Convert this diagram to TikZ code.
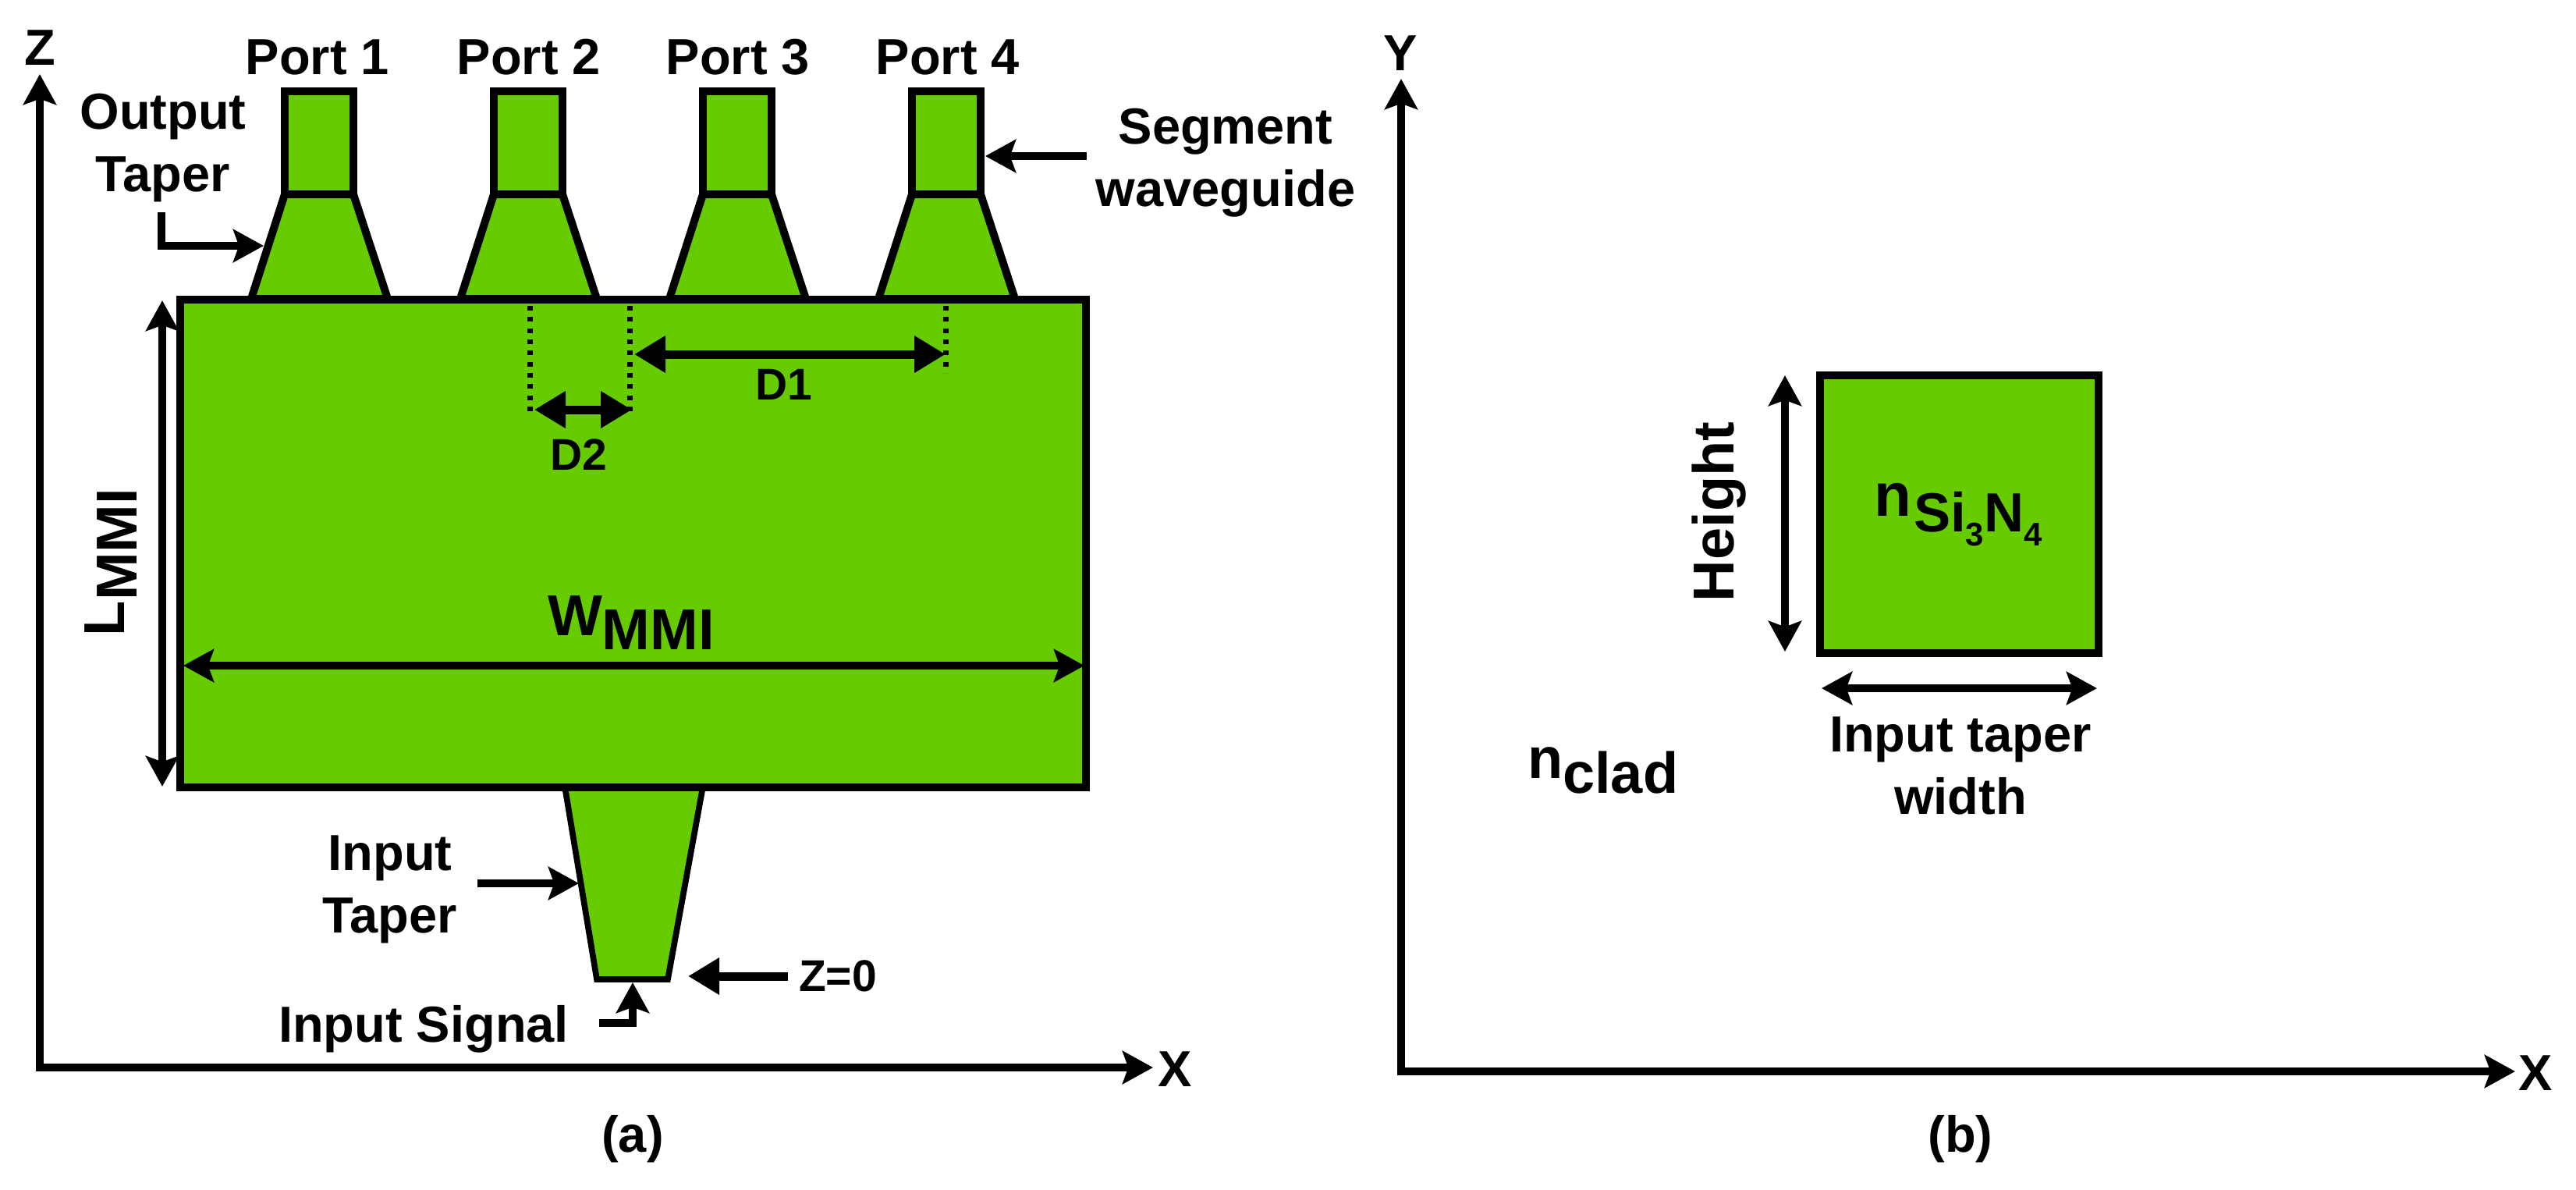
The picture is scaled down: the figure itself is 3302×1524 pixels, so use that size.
\documentclass[tikz,border=0pt]{standalone}
\usepackage{fontspec}
\setmainfont{Liberation Sans}
\usetikzlibrary{arrows.meta}
\definecolor{coregreen}{HTML}{66CC00}
\newcommand{\labelfont}{\fontsize{19.5}{24}\selectfont\bfseries}
\newcommand{\smallfont}{\fontsize{17.1}{20}\selectfont\bfseries}
\newcommand{\bigfont}{\fontsize{22.2}{26}\selectfont\bfseries}

\begin{document}
\begin{tikzpicture}[
  x = 0.3pt, y = -0.3pt,
  every node/.style = {inner sep=0pt, outer sep=0pt, anchor=base, font=\labelfont},
  device/.style = {draw, fill=coregreen, line width=3pt},
  thintaper/.style = {draw, fill=coregreen, line width=2.3pt},
  gap/.style = {line width=2.1pt, dash pattern=on 1.8pt off 2.5pt},
  pointer/.style = {line width=3pt, -{Stealth[length=11.7pt, width=12.6pt, inset=2.2pt]}},
  span/.style = {line width=3pt, {Stealth[length=11.7pt, width=12.6pt, inset=2.2pt]}-{Stealth[length=11.7pt, width=12.6pt, inset=2.2pt]}},
  solidspan/.style = {line width=3.3pt, {Triangle[length=12pt, width=13.5pt]}-{Triangle[length=12pt, width=13.5pt]}},
  solidpointer/.style = {line width=3.3pt, -{Triangle[length=12pt, width=13.5pt]}}
]
  \useasboundingbox (0,0) rectangle (3302,1524);

  \coordinate (ztip) at (51,95);
  \coordinate (acorner) at (51,1368);
  \coordinate (axtip) at (1478,1368);
  \draw[span] (ztip) -- (acorner) -- (axtip);
  \node (zlabel) at (51,83) {Z};
  \node (axlabel) at (1506,1392) {X};
  \node (acaption) at (811,1476) {(a)};

  \draw[device] (322,383) -- (365,249) -- (453,249) -- (497,383) -- cycle;
  \draw[device] (590,383) -- (633,249) -- (721,249) -- (765,383) -- cycle;
  \draw[device] (858,383) -- (901,249) -- (989,249) -- (1033,383) -- cycle;
  \draw[device] (1126,383) -- (1169,249) -- (1257,249) -- (1301,383) -- cycle;
  \draw[device] (365,117) rectangle (453,249);
  \draw[device] (633,117) rectangle (721,249);
  \draw[device] (901,117) rectangle (989,249);
  \draw[device] (1169,117) rectangle (1257,249);
  \draw[thintaper] (724,1008) -- (765,1255) -- (856,1255) -- (901,1008) -- cycle;
  \draw[device] (231,384) rectangle (1392,1009);

  \node (port1) at (407,95) {Port 1};
  \node (port2) at (678,95) {Port 2};
  \node (port3) at (946,95) {Port 3};
  \node (port4) at (1215,95) {Port 4};

  \node (outputtaper) [align=center] at (209,245) {Output\\Taper};
  \coordinate (outfrom) at (207,272);
  \coordinate (outbend) at (207,315);
  \coordinate (outtip) at (338,315);
  \draw[pointer] (outfrom) -- (outbend) -- (outtip);

  \node (segment) [align=center] at (1571,264) {Segment\\waveguide};
  \coordinate (segfrom) at (1393,200);
  \coordinate (segtip) at (1263,200);
  \draw[pointer] (segfrom) -- (segtip);

  \coordinate (d2top) at (679,392);
  \coordinate (d2bottom) at (679,528);
  \coordinate (d2top2) at (807,392);
  \coordinate (d2bottom2) at (807,528);
  \coordinate (d1top) at (1212,392);
  \coordinate (d1bottom) at (1212,478);
  \draw[gap] (d2top) -- (d2bottom);
  \draw[gap] (d2top2) -- (d2bottom2);
  \draw[gap] (d1top) -- (d1bottom);

  \coordinate (d1left) at (813,454);
  \coordinate (d1right) at (1212,454);
  \draw[solidspan] (d1left) -- (d1right);
  \node (d1label) [font=\smallfont] at (1005,512) {D1};
  \coordinate (d2left) at (685,525);
  \coordinate (d2right) at (810,525);
  \draw[solidspan] (d2left) -- (d2right);
  \node (d2label) [font=\smallfont] at (742,602) {D2};

  \coordinate (ltop) at (208,385);
  \coordinate (lbottom) at (208,1008);
  \draw[span] (ltop) -- (lbottom);
  \node (lmmi) [font=\bigfont, rotate=90, anchor=base west] at (159,815) {L\raisebox{-4.8pt}{MMI}};

  \coordinate (wleft) at (235,853);
  \coordinate (wright) at (1390,853);
  \draw[span] (wleft) -- (wright);
  \node (wmmi) [font=\bigfont, anchor=base west] at (702,814) {W\raisebox{-5.4pt}{MMI}};

  \node (inputtaper) [align=center] at (500,1195) {Input\\Taper};
  \coordinate (infrom) at (612,1132);
  \coordinate (intip) at (742,1132);
  \draw[pointer] (infrom) -- (intip);

  \coordinate (zfrom) at (1010,1251);
  \coordinate (zerotip) at (882,1251);
  \draw[solidpointer] (zfrom) -- (zerotip);
  \node (zzero) [font=\smallfont, anchor=base west] at (1024,1270) {Z=0};

  \node (signal) at (543,1335) {Input Signal};
  \coordinate (sigfrom) at (768,1311);
  \coordinate (sigbend) at (811,1311);
  \coordinate (sigtip) at (811,1259);
  \draw[pointer] (sigfrom) -- (sigbend) -- (sigtip);

  \coordinate (ytip) at (1796,101);
  \coordinate (bcorner) at (1796,1373);
  \coordinate (bxtip) at (3224,1373);
  \draw[span] (ytip) -- (bcorner) -- (bxtip);
  \node (ylabel) at (1795,90) {Y};
  \node (bxlabel) at (3250,1397) {X};
  \node (bcaption) at (2513,1476) {(b)};

  \draw[device] (2333,481) rectangle (2690,837);
  \node (nsi) [font=\fontsize{23.5}{27}\selectfont\bfseries, anchor=base west] at (2402,661) {n\hspace{1pt}\raisebox{-6pt}{\fontsize{21.2}{25}\selectfont Si\raisebox{-5.4pt}{\fontsize{12.6}{15}\selectfont 3}N\raisebox{-5.4pt}{\fontsize{12.6}{15}\selectfont 4}}};

  \coordinate (htop) at (2288,481);
  \coordinate (hbottom) at (2288,835);
  \draw[span] (htop) -- (hbottom);
  \node (height) [font=\bigfont, rotate=90] at (2222,656) {Height};

  \coordinate (tleft) at (2335,882);
  \coordinate (tright) at (2688,882);
  \draw[span] (tleft) -- (tright);
  \node (tapwidth) [align=center] at (2513,1043) {Input taper\\width};

  \node (nclad) [font=\bigfont, anchor=base west] at (1958,997) {n\raisebox{-5.7pt}{clad}};
\end{tikzpicture}
\end{document}
